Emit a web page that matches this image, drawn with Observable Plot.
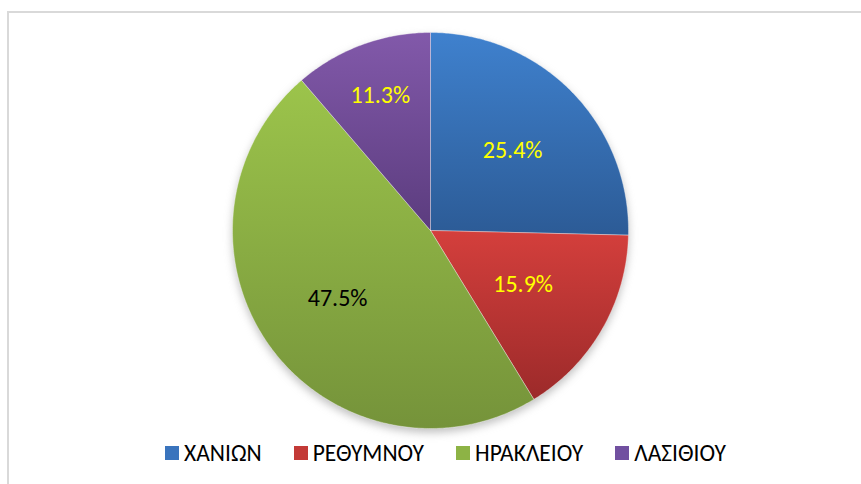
<!DOCTYPE html>
<html>
<head>
<meta charset="utf-8">
<script src="https://cdn.jsdelivr.net/npm/d3@7"></script>
<script src="https://cdn.jsdelivr.net/npm/@observablehq/plot@0.6"></script>
<style>
  html, body { margin: 0; padding: 0; background: #fff; width: 861px; height: 484px; overflow: hidden; }
  #frame { position: absolute; left: 7px; top: 11px; width: 900px; height: 520px; border-left: 2px solid #d9d9d9; border-top: 2px solid #d9d9d9; }
  #chart { position: absolute; left: 0; top: 0; }
  #legend { position: absolute; left: 165px; top: 439px; }
  .lg-swatches { min-height: 0 !important; margin: 0 !important; }
  .lg-swatch { margin-right: 32px !important; }
  .lg-swatch svg { margin-right: 5px !important; }
  .shadow { filter: blur(4px); }
</style>
</head>
<body>
<div id="frame"></div>
<div id="chart"></div>
<div id="legend"></div>
<script>
const regions = ["ΧΑΝΙΩΝ", "ΡΕΘΥΜΝΟΥ", "ΗΡΑΚΛΕΙΟΥ", "ΛΑΣΙΘΙΟΥ"];
const shares = [25.4, 15.9, 47.5, 11.3];
const labels = ["25.4%", "15.9%", "47.5%", "11.3%"];
const labelColors = ["#ffff00", "#ffff00", "#000000", "#ffff00"];
const topColors = ["#3f81ce", "#d43f3c", "#9cc44b", "#8259aa"];
const bottomColors = ["#2c5b96", "#9c2a2a", "#75933a", "#5b3c7e"];
const swatchColors = ["#3a74bd", "#c33a37", "#8db345", "#7150a0"];

const FONT = "Carlito, Calibri, 'Liberation Sans', sans-serif";
const total = d3.sum(shares);

// slice outlines computed from the data (angle from 12 o'clock, clockwise)
let cum = 0;
const slices = shares.map((v, i) => {
  const a0 = cum / total * 2 * Math.PI;
  cum += v;
  const a1 = cum / total * 2 * Math.PI;
  const n = Math.max(2, Math.ceil((a1 - a0) / 0.01));
  const pts = [{x: 0, y: 0}];
  for (let k = 0; k <= n; k++) {
    const a = a0 + (a1 - a0) * k / n;
    pts.push({x: Math.sin(a), y: Math.cos(a)});
  }
  pts.push({x: 0, y: 0});
  const mid = (a0 + a1) / 2;
  const r = v < 15 ? 0.73 : v < 20 ? 0.54 : 0.58;
  return {i, pts, label: {x: r * Math.sin(mid), y: r * Math.cos(mid), text: labels[i], color: labelColors[i]}};
});

const circle = d3.range(0, 361, 2).map(d => ({x: Math.sin(d * Math.PI / 180), y: Math.cos(d * Math.PI / 180)}));

const plot = Plot.plot({
  width: 861,
  height: 435,
  marginLeft: 232,
  marginRight: 233,
  marginTop: 32,
  marginBottom: 7,
  x: {domain: [-1, 1], axis: null},
  y: {domain: [-1, 1], axis: null},
  color: {type: "identity"},
  style: {background: "transparent", fontFamily: FONT, overflow: "visible"},
  marks: [
    Plot.line(circle, {x: "x", y: "y", fill: "#8c8c8c", fillOpacity: 0.55, stroke: "none", dy: 4, className: "shadow"}),
    ...slices.map(s => Plot.line(s.pts, {x: "x", y: "y", fill: `url(#grad${s.i})`, stroke: "#ffffff", strokeWidth: 0.6, strokeOpacity: 0.6})),
    Plot.text(slices.map(s => s.label), {x: "x", y: "y", text: "text", fill: "color", fontSize: 24, fontFamily: FONT})
  ]
});

// gradients for the slices
const defs = d3.select(plot).insert("defs", ":first-child");
topColors.forEach((c, i) => {
  const g = defs.append("linearGradient").attr("id", `grad${i}`).attr("x1", 0).attr("y1", 0).attr("x2", 0).attr("y2", 1);
  g.append("stop").attr("offset", "0%").attr("stop-color", c);
  g.append("stop").attr("offset", "100%").attr("stop-color", bottomColors[i]);
});
document.getElementById("chart").append(plot);

const legend = Plot.legend({
  color: {type: "ordinal", domain: regions, range: swatchColors},
  legend: "swatches",
  swatchSize: 14,
  className: "lg",
  style: {fontSize: "23.5px", fontFamily: FONT, color: "#000"}
});
document.getElementById("legend").append(legend);
</script>
</body>
</html>
